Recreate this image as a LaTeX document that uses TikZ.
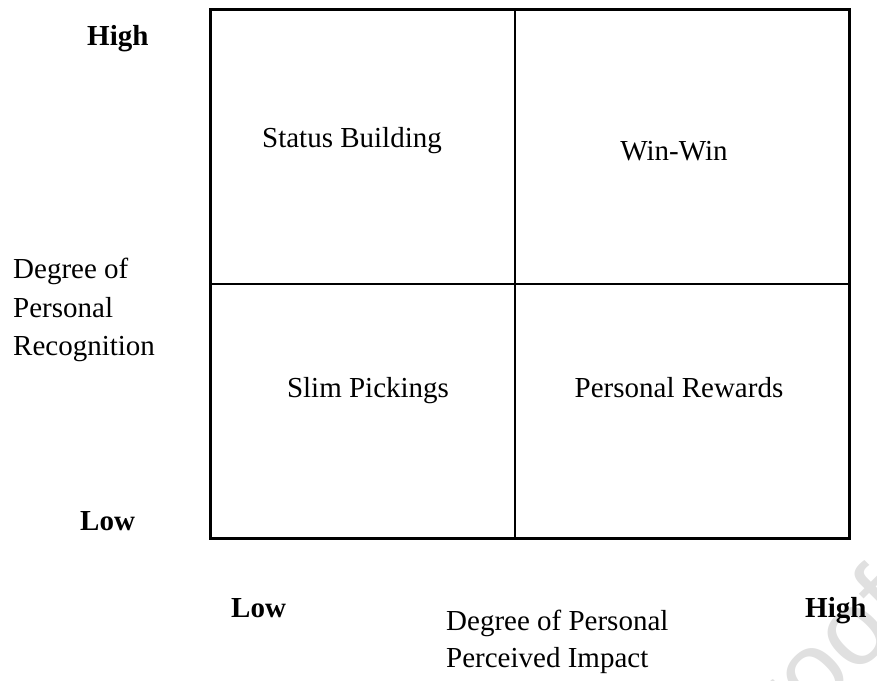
\documentclass[tikz,border=0pt]{standalone}
\usepackage{fontspec}
\setmainfont{Liberation Serif}
\newfontfamily\wmfont{Liberation Sans}
\begin{document}
\begin{tikzpicture}[x=1pt,y=-1pt,
  lbl/.style={inner sep=0pt,font=\fontsize{29}{37}\selectfont},
  blbl/.style={lbl,font=\fontsize{29}{37}\selectfont\bfseries},
  outer/.style={line width=3pt},
  divider/.style={line width=1.8pt},
  watermark/.style={inner sep=0pt,text=black!12,font=\wmfont\fontsize{105}{105}\selectfont,rotate=45}]
\useasboundingbox (0,0) rectangle (877,680);
\begin{scope}
\clip (0,0) rectangle (877,680);
\node[watermark,anchor=base east] (wm) at (918,614) {Proof};
\end{scope}
% grid
\coordinate (tl) at (210,9);
\coordinate (br) at (849,538);
\coordinate (vt) at (515,9);
\coordinate (vb) at (515,538);
\coordinate (hl) at (210,284);
\coordinate (hr) at (849,284);
\draw[divider] (vt) -- (vb);
\draw[divider] (hl) -- (hr);
\draw[outer] (tl) rectangle (br);
% quadrant labels
\node[lbl,anchor=base] (sb) at (352,147) {Status Building};
\node[lbl,anchor=base] (ww) at (674,160) {Win-Win};
\node[lbl,anchor=base] (sp) at (368,397) {Slim Pickings};
\node[lbl,anchor=base] (pr) at (679,397) {Personal Rewards};
% left axis
\node[blbl,anchor=base west] (yhigh) at (87,45) {High};
\node[blbl,anchor=base west] (ylow) at (80,530) {Low};
\node[lbl,anchor=base west] (y1) at (13,278) {Degree of};
\node[lbl,anchor=base west] (y2) at (13,317) {Personal};
\node[lbl,anchor=base west] (y3) at (13,355) {Recognition};
% bottom axis
\node[blbl,anchor=base west] (xlow) at (231,617) {Low};
\node[blbl,anchor=base west] (xhigh) at (805,617) {High};
\node[lbl,anchor=base west] (x1) at (446,630) {Degree of Personal};
\node[lbl,anchor=base west] (x2) at (446,667) {Perceived Impact};
\end{tikzpicture}
\end{document}
